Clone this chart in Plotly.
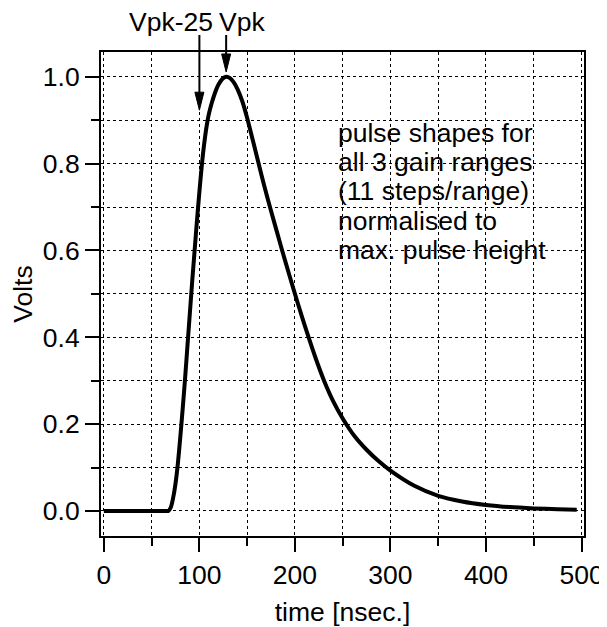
import plotly.graph_objects as go

# ---- data ----
time_ns = [0, 30, 60, 65, 67.5, 70, 72.5, 75, 77.5, 80,
           82.5, 85, 87.5, 90, 92.5, 95, 97.5, 100, 102.5, 105,
           107.5, 110, 113, 116, 120, 124, 128, 132, 136, 140,
           145, 150, 156, 162, 168, 174.5, 181, 187, 193.5, 200,
           207, 214, 222, 230.5, 240, 250, 262.5, 275, 287.5, 300,
           325, 350, 375, 400, 425, 450, 475, 495]
volts = [0, 0, 0, 0, 0, 0.008, 0.03, 0.063, 0.11, 0.17,
         0.235, 0.305, 0.38, 0.455, 0.53, 0.6, 0.67, 0.735, 0.795, 0.845,
         0.885, 0.915, 0.94, 0.961, 0.982, 0.995, 1.0, 0.997, 0.987, 0.971,
         0.943, 0.905, 0.853, 0.8, 0.748, 0.695, 0.644, 0.597, 0.548, 0.5,
         0.45, 0.402, 0.35, 0.3, 0.253, 0.213, 0.172, 0.141, 0.115, 0.093,
         0.058, 0.035, 0.022, 0.014, 0.009, 0.006, 0.004, 0.003]

x_ticks = [0, 100, 200, 300, 400, 500]
y_ticks = [0.0, 0.2, 0.4, 0.6, 0.8, 1.0]
y_tick_labels = ["0.0", "0.2", "0.4", "0.6", "0.8", "1.0"]

markers = ["Vpk-25", "Vpk"]
marker_times = [100, 128]
marker_tips = [0.923, 1.011]

note_lines = ["pulse shapes for", "all 3 gain ranges", "(11 steps/range)",
              "normalised to", "max. pulse height"]

X_RANGE = [-3, 502.6]
Y_RANGE = [-0.0576, 1.057]

FONT = "Liberation Sans, Arial, Helvetica, sans-serif"
FS = 26.5

# the page body has an 8px margin; figure is sized to fit inside it
OFF = 8


def xp(t):
    return (t - X_RANGE[0]) / (X_RANGE[1] - X_RANGE[0])


def yp(v):
    return (v - Y_RANGE[0]) / (Y_RANGE[1] - Y_RANGE[0])


fig = go.Figure()
fig.add_trace(go.Scatter(x=time_ns, y=volts, mode="lines",
                         line=dict(color="black", width=4, shape="spline", smoothing=0.8),
                         showlegend=False, hoverinfo="skip"))

axis_common = dict(
    showline=True, linecolor="black", linewidth=2, mirror=True,
    ticks="outside", ticklen=14, tickwidth=2, tickcolor="black",
    showgrid=True, gridcolor="black", gridwidth=1, griddash="dot",
    zeroline=False, automargin=False,
    tickfont=dict(family=FONT, size=FS, color="black"),
)

fig.update_xaxes(**axis_common, range=X_RANGE, tickvals=x_ticks,
                 minor=dict(dtick=50, tick0=0, ticks="outside", ticklen=8, tickwidth=2,
                            tickcolor="black", showgrid=True, gridcolor="black",
                            gridwidth=1, griddash="dot"),
                 title=dict(text="time [nsec.]", font=dict(family=FONT, size=FS, color="black"),
                            standoff=14))
fig.update_yaxes(**axis_common, range=Y_RANGE, tickvals=y_ticks, ticktext=y_tick_labels,
                 minor=dict(dtick=0.1, tick0=0, ticks="outside", ticklen=8, tickwidth=2,
                            tickcolor="black", showgrid=True, gridcolor="black",
                            gridwidth=1, griddash="dot"),
                 title=dict(text="Volts", font=dict(family=FONT, size=FS, color="black"),
                            standoff=6))

shapes = []
annotations = []
# paper coordinates for decorations (pixel geometry of the reference)
H = 484.0
W = 483.3
PLOT_TOP = 52
PLOT_BOTTOM = 536
tail_p = (PLOT_BOTTOM - 35) / H
head_len = 18 / H
half_w = 4.5 / W
for name, t, tip in zip(markers, marker_times, marker_tips):
    px = xp(t)
    tp = yp(tip)
    base = tp + head_len
    shapes.append(dict(type="line", xref="paper", yref="paper", x0=px, x1=px,
                       y0=tail_p, y1=base - 0.002, line=dict(color="black", width=2)))
    shapes.append(dict(type="path", xref="paper", yref="paper",
                       path=f"M {px - half_w} {base} L {px + half_w} {base} L {px} {tp} Z",
                       fillcolor="black", line=dict(color="black", width=1)))

annotations.append(dict(text=markers[0], xref="paper", yref="paper", x=0.1455, y=1.062,
                        xanchor="center", yanchor="middle", showarrow=False,
                        font=dict(family=FONT, size=FS, color="black")))
annotations.append(dict(text=markers[1], xref="paper", yref="paper", x=0.2913, y=1.062,
                        xanchor="center", yanchor="middle", showarrow=False,
                        font=dict(family=FONT, size=FS, color="black")))

# white box behind the note (hides grid lines)
shapes.append(dict(type="rect", xref="paper", yref="paper", x0=0.4828, x1=0.9195,
                   y0=0.5537, y1=0.8678, fillcolor="white", line=dict(width=0),
                   layer="between"))
line_centers_px = [132.7, 162.0, 191.3, 220.6, 249.9]
for txt, cy in zip(note_lines, line_centers_px):
    annotations.append(dict(text=txt, xref="paper", yref="paper", x=0.4869,
                            y=(PLOT_BOTTOM - cy) / H, xanchor="left", yanchor="middle",
                            showarrow=False,
                            font=dict(family=FONT, size=FS, color="black")))

fig.update_layout(
    width=607 - OFF, height=627 - OFF,
    margin=dict(l=101 - OFF, r=23, t=52 - OFF, b=91),
    paper_bgcolor="white", plot_bgcolor="white",
    shapes=shapes, annotations=annotations,
    font=dict(family=FONT, color="black"),
)

fig.write_html("out.html")
